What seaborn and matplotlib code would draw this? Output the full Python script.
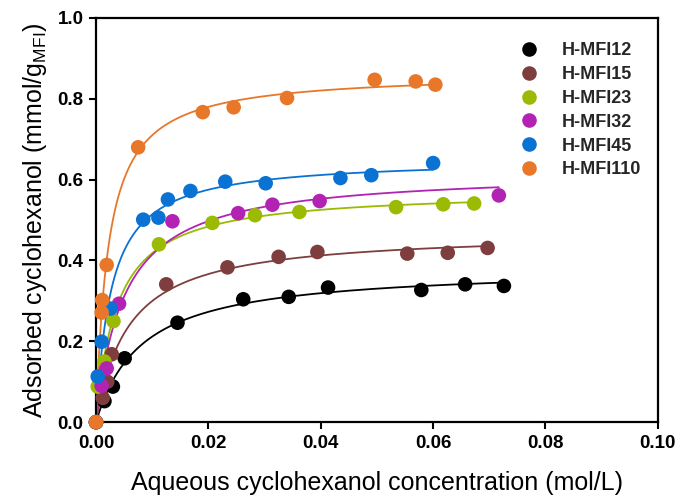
import numpy as np
import pandas as pd
import matplotlib
matplotlib.use("Agg")
import matplotlib.pyplot as plt
import seaborn as sns

sns.set_theme(style="white")
plt.rcParams['font.family'] = ['Liberation Sans', 'DejaVu Sans']
plt.rcParams['mathtext.fontset'] = 'custom'
plt.rcParams['mathtext.rm'] = 'Liberation Sans'

series_names = ["H-MFI12", "H-MFI15", "H-MFI23", "H-MFI32", "H-MFI45", "H-MFI110"]
colors = ["#000000", "#7e3e3e", "#9aba04", "#b223b3", "#0a72d2", "#e8772a"]

x_mfi12 = [0, 0.0015, 0.0030, 0.0051, 0.0145, 0.0262, 0.0343, 0.0413, 0.0579, 0.0657, 0.0726]
y_mfi12 = [0, 0.052, 0.088, 0.158, 0.246, 0.304, 0.310, 0.333, 0.327, 0.341, 0.337]
x_mfi15 = [0, 0.0012, 0.0020, 0.0028, 0.0125, 0.0234, 0.0325, 0.0394, 0.0554, 0.0626, 0.0697]
y_mfi15 = [0, 0.060, 0.100, 0.168, 0.341, 0.383, 0.409, 0.421, 0.417, 0.419, 0.431]
x_mfi23 = [0, 0.0003, 0.0015, 0.0031, 0.0112, 0.0207, 0.0283, 0.0362, 0.0534, 0.0618, 0.0673]
y_mfi23 = [0, 0.088, 0.150, 0.250, 0.440, 0.493, 0.512, 0.520, 0.532, 0.539, 0.541]
x_mfi32 = [0, 0.0010, 0.0019, 0.0041, 0.0136, 0.0253, 0.0314, 0.0398, 0.0717]
y_mfi32 = [0, 0.090, 0.133, 0.293, 0.497, 0.517, 0.538, 0.547, 0.561]
x_mfi45 = [0, 0.0003, 0.0010, 0.0026, 0.0084, 0.0111, 0.0128, 0.0168, 0.0230, 0.0302, 0.0435, 0.0490, 0.0600]
y_mfi45 = [0, 0.113, 0.199, 0.281, 0.501, 0.506, 0.551, 0.572, 0.595, 0.591, 0.604, 0.611, 0.641]
x_mfi110 = [0, 0.0010, 0.0011, 0.0019, 0.0075, 0.0190, 0.0245, 0.0340, 0.0496, 0.0569, 0.0604]
y_mfi110 = [0, 0.271, 0.302, 0.389, 0.680, 0.767, 0.779, 0.802, 0.847, 0.843, 0.835]

xs = [x_mfi12, x_mfi15, x_mfi23, x_mfi32, x_mfi45, x_mfi110]
ys = [y_mfi12, y_mfi15, y_mfi23, y_mfi32, y_mfi45, y_mfi110]

x_ticks = [0.00, 0.02, 0.04, 0.06, 0.08, 0.10]
y_ticks = [0.0, 0.2, 0.4, 0.6, 0.8, 1.0]

# points table
pts = pd.concat([pd.DataFrame({"x": x, "y": y, "sample": n}) for x, y, n in zip(xs, ys, series_names)],
                ignore_index=True)

# Langmuir fit of each series (derived from the points)
def langmuir_fit(x, y):
    x = np.asarray(x); y = np.asarray(y)
    best = None
    for K in np.logspace(0, 4, 2000):
        f = K * x / (1 + K * x)
        qm = (f @ y) / (f @ f)
        sse = np.sum((qm * f - y) ** 2)
        if best is None or sse < best[0]:
            best = (sse, qm, K)
    return best[1], best[2]

curves = []
for x, y, n in zip(xs, ys, series_names):
    qm, K = langmuir_fit(x, y)
    xx = np.linspace(0, max(x), 400)
    curves.append(pd.DataFrame({"x": xx, "y": qm * K * xx / (1 + K * xx), "sample": n}))
curves = pd.concat(curves, ignore_index=True)

fig = plt.figure(figsize=(6.81, 4.99), dpi=100)
ax = fig.add_axes([0.141, 0.154, 0.825, 0.81])
pal = dict(zip(series_names, colors))

sns.lineplot(data=curves, x="x", y="y", hue="sample", palette=pal, hue_order=series_names,
             linewidth=1.3, legend=False, ax=ax, zorder=2, sort=False, estimator=None)
sns.scatterplot(data=pts, x="x", y="y", hue="sample", palette=pal, hue_order=series_names,
                s=110, edgecolor="none", linewidth=0, ax=ax, zorder=3, clip_on=False)

ax.set_xlim(0, 0.10)
ax.set_ylim(0, 1.0)
ax.set_xticks(x_ticks)
ax.set_xticklabels([f"{v:.2f}" for v in x_ticks])
ax.set_yticks(y_ticks)
ax.set_yticklabels([f"{v:.1f}" for v in y_ticks])
for lab in ax.get_xticklabels() + ax.get_yticklabels():
    lab.set_fontweight("bold")
ax.tick_params(axis="both", which="major", direction="out", length=5, width=1.5,
               labelsize=13.5, color="black", labelcolor="black", left=True, bottom=True, pad=4)
for sp in ax.spines.values():
    sp.set_visible(True)
    sp.set_color("black")
    sp.set_linewidth(1.6)

ax.set_xlabel("Aqueous cyclohexanol concentration (mol/L)", fontsize=18, color="black", labelpad=14)
ax.set_ylabel("Adsorbed cyclohexanol (mmol/g$_\\mathregular{MFI}$)", fontsize=18, color="black", labelpad=6)

leg = ax.legend(loc="upper left", bbox_to_anchor=(0.741, 0.958), frameon=False,
                fontsize=13, handletextpad=1.35, labelspacing=0.38, borderaxespad=0,
                handlelength=1.0, markerscale=1.0)
for t in leg.get_texts():
    t.set_fontweight("bold")

fig.savefig("out.png", dpi=100)
